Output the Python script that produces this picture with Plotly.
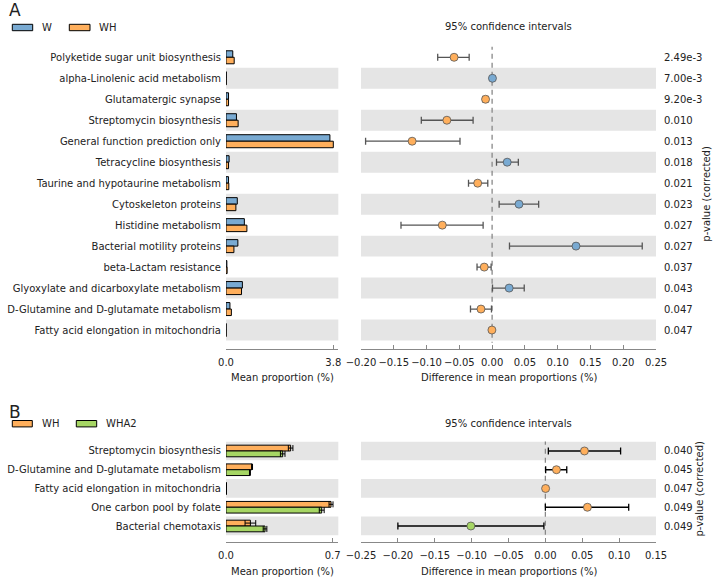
import plotly.graph_objects as go

W_PX, H_PX = 722, 582
FONT = "DejaVu Sans"

# ---------------- Panel A data ----------------
a_groups = ["W", "WH"]
a_features = [
    "Polyketide sugar unit biosynthesis",
    "alpha-Linolenic acid metabolism",
    "Glutamatergic synapse",
    "Streptomycin biosynthesis",
    "General function prediction only",
    "Tetracycline biosynthesis",
    "Taurine and hypotaurine metabolism",
    "Cytoskeleton proteins",
    "Histidine metabolism",
    "Bacterial motility proteins",
    "beta-Lactam resistance",
    "Glyoxylate and dicarboxylate metabolism",
    "D-Glutamine and D-glutamate metabolism",
    "Fatty acid elongation in mitochondria",
]
a_mean_W = [0.24, 0.01, 0.09, 0.37, 3.68, 0.11, 0.09, 0.40, 0.65, 0.42, 0.03, 0.58, 0.14, 0.005]
a_mean_WH = [0.29, 0.01, 0.09, 0.43, 3.80, 0.09, 0.10, 0.35, 0.74, 0.28, 0.04, 0.55, 0.19, 0.006]
a_diff = [-0.058, 0.0005, -0.010, -0.069, -0.122, 0.023, -0.022, 0.041, -0.076, 0.128, -0.012, 0.026, -0.017, -0.0003]
a_ci_low = [-0.083, -0.0005, -0.0137, -0.108, -0.193, 0.0067, -0.036, 0.0107, -0.139, 0.0265, -0.023, 0.0006, -0.033, -0.0008]
a_ci_high = [-0.035, 0.0015, -0.0066, -0.029, -0.049, 0.040, -0.0066, 0.071, -0.0137, 0.229, -0.0015, 0.049, -0.001, 0.0002]
a_pvals = ["2.49e-3", "7.00e-3", "9.20e-3", "0.010", "0.013", "0.018", "0.021",
           "0.023", "0.027", "0.027", "0.037", "0.043", "0.047", "0.047"]
a_bar_ticks = [0.0, 3.8]
a_diff_ticks = [-0.20, -0.15, -0.10, -0.05, 0.00, 0.05, 0.10, 0.15, 0.20, 0.25]

# ---------------- Panel B data ----------------
b_groups = ["WH", "WHA2"]
b_features = [
    "Streptomycin biosynthesis",
    "D-Glutamine and D-glutamate metabolism",
    "Fatty acid elongation in mitochondria",
    "One carbon pool by folate",
    "Bacterial chemotaxis",
]
b_mean_WH = [0.424, 0.171, 0.002, 0.689, 0.160]
b_err_WH = [0.015, 0.003, 0.0005, 0.013, 0.035]
b_mean_WHA2 = [0.372, 0.157, 0.002, 0.628, 0.256]
b_err_WHA2 = [0.015, 0.003, 0.0005, 0.016, 0.012]
b_diff = [0.053, 0.015, 0.0003, 0.057, -0.101]
b_ci_low = [0.004, 0.0004, -0.0002, 0.000, -0.200]
b_ci_high = [0.102, 0.029, 0.0008, 0.113, -0.002]
b_pvals = ["0.040", "0.045", "0.047", "0.049", "0.049"]
b_bar_ticks = [0.0, 0.7]
b_diff_ticks = [-0.25, -0.20, -0.15, -0.10, -0.05, 0.00, 0.05, 0.10, 0.15]

COLORS = {"W": "#79AAD2", "WH": "#FFAF5C", "WHA2": "#A6D664"}
BAND = "#E5E5E5"
TXT = "#222222"


def fx(px):
    return px / W_PX


def fy(py):
    return 1 - py / H_PX


def fmt(v, nd):
    s = f"{abs(v):.{nd}f}"
    return ("\u2212" + s) if v < -1e-12 else s


fig = go.Figure()

# ---------- bars A ----------
a_idx = list(range(len(a_features)))
for g, vals in zip(a_groups, [a_mean_W, a_mean_WH]):
    fig.add_trace(go.Bar(x=vals, y=a_idx, orientation="h", name=g,
                         marker=dict(color=COLORS[g], line=dict(color="black", width=1)),
                         xaxis="x", yaxis="y", showlegend=False))

# ---------- diff A ----------
a_cols = [COLORS[a_groups[0]] if d > 0 else COLORS[a_groups[1]] for d in a_diff]
fig.add_trace(go.Scatter(
    x=a_diff, y=a_idx, mode="markers", xaxis="x2", yaxis="y2", showlegend=False,
    marker=dict(size=8, color=a_cols, line=dict(color="#555555", width=0.8)),
    error_x=dict(type="data", symmetric=False,
                 array=[h - d for h, d in zip(a_ci_high, a_diff)],
                 arrayminus=[d - l for l, d in zip(a_ci_low, a_diff)],
                 color="#555555", thickness=1.3, width=3.5)))

# ---------- bars B ----------
b_idx = list(range(len(b_features)))
for g, vals, errs in zip(b_groups, [b_mean_WH, b_mean_WHA2], [b_err_WH, b_err_WHA2]):
    fig.add_trace(go.Bar(x=vals, y=b_idx, orientation="h", name=g,
                         marker=dict(color=COLORS[g], line=dict(color="black", width=1)),
                         error_x=dict(type="data", array=errs, color="black", thickness=1, width=3),
                         xaxis="x3", yaxis="y3", showlegend=False))

# ---------- diff B ----------
b_cols = [COLORS[b_groups[0]] if d > 0 else COLORS[b_groups[1]] for d in b_diff]
fig.add_trace(go.Scatter(
    x=b_diff, y=b_idx, mode="markers", xaxis="x4", yaxis="y4", showlegend=False,
    marker=dict(size=8, color=b_cols, line=dict(color="#555555", width=0.8)),
    error_x=dict(type="data", symmetric=False,
                 array=[h - d for h, d in zip(b_ci_high, b_diff)],
                 arrayminus=[d - l for l, d in zip(b_ci_low, b_diff)],
                 color="black", thickness=1.3, width=3.5)))

# ---------- axes ----------
A_TOP, A_BOT = 46.8, 349.0
B_TOP, B_BOT = 441.6, 542.3
BAR_L, BAR_R = 226, 338.3
DIF_L, DIF_R = 361, 656

tickfont = dict(family=FONT, size=10, color=TXT)


def xax(domain, rng, ticks, nd, anchor):
    return dict(domain=[fx(domain[0]), fx(domain[1])], range=rng, anchor=anchor,
                showline=True, linecolor="#888888", linewidth=1, showgrid=False, zeroline=False,
                ticks="inside", ticklen=4, tickcolor="#888888", tickwidth=1,
                tickvals=ticks, ticktext=[fmt(t, nd) for t in ticks], tickangle=0,
                ticklabelstandoff=4,
                automargin=False, tickfont=tickfont, fixedrange=True)


def yax(domain, rng, anchor, labels=None):
    d = dict(domain=[fy(domain[1]), fy(domain[0])], range=rng, anchor=anchor,
             showline=False, showgrid=False, zeroline=False, ticks="", fixedrange=True,
             automargin=False)
    if labels is None:
        d["showticklabels"] = False
    else:
        d.update(tickvals=list(range(len(labels))), ticktext=labels, tickfont=tickfont,
                 ticklabelstandoff=4)
    return d


a_yrange = [(A_BOT - 57.3) / 20.98, -0.5]
b_yrange = [(B_BOT - 451.0) / 18.75, -0.5]

fig.update_layout(
    xaxis=xax((BAR_L, BAR_R), [0, 3.8 * (BAR_R - BAR_L) / (333.3 - 226)], a_bar_ticks, 1, "y"),
    yaxis=yax((A_TOP, A_BOT), a_yrange, "x", a_features),
    xaxis2=xax((DIF_L, DIF_R), [-0.20, 0.25], a_diff_ticks, 2, "y2"),
    yaxis2=yax((A_TOP, A_BOT), a_yrange, "x2"),
    xaxis3=xax((BAR_L, BAR_R), [0, 0.7 * (BAR_R - BAR_L) / (332.7 - 226)], b_bar_ticks, 1, "y3"),
    yaxis3=yax((B_TOP, B_BOT), b_yrange, "x3", b_features),
    xaxis4=xax((DIF_L, DIF_R), [-0.25, 0.15], b_diff_ticks, 2, "y4"),
    yaxis4=yax((B_TOP, B_BOT), b_yrange, "x4"),
    barmode="group", bargap=0.38, bargroupgap=0,
    width=W_PX, height=H_PX, margin=dict(l=0, r=0, t=0, b=0, autoexpand=False),
    paper_bgcolor="white", plot_bgcolor="rgba(0,0,0,0)",
    font=dict(family=FONT, size=10, color=TXT),
)

shapes = []
# background bands
for n, pairs in [(len(a_features), [("x", "y"), ("x2", "y2")]),
                 (len(b_features), [("x3", "y3"), ("x4", "y4")])]:
    for i in range(n):
        if (n - 1 - i) % 2 == 0:
            for xr, yr in pairs:
                shapes.append(dict(type="rect", xref=xr + " domain", yref=yr, x0=0, x1=1,
                                   y0=i - 0.5, y1=i + 0.5, fillcolor=BAND, line=dict(width=0),
                                   layer="below"))
# zero lines
shapes.append(dict(type="line", xref="x2", yref="y2", x0=0, x1=0, y0=-0.6, y1=len(a_features) - 0.4,
                   line=dict(color="#888888", width=1.3, dash="5px,4px"), layer="below"))
shapes.append(dict(type="line", xref="x4", yref="y4", x0=0, x1=0, y0=-0.6, y1=len(b_features) - 0.4,
                   line=dict(color="#888888", width=1.3, dash="5px,4px"), layer="below"))

annotations = []


def legend(y, items):
    for (x0, x1, tx), g in items:
        shapes.append(dict(type="rect", xref="paper", yref="paper", x0=fx(x0), x1=fx(x1),
                           y0=fy(y + 3.2), y1=fy(y - 3.2), fillcolor=COLORS[g],
                           line=dict(color="black", width=1)))
        annotations.append(dict(xref="paper", yref="paper", x=fx(tx), y=fy(y), text=g,
                                showarrow=False, xanchor="left", yanchor="middle",
                                font=dict(family=FONT, size=10, color=TXT)))


legend(27.5, [((12.3, 32.7, 40), "W"), ((69.3, 90, 97), "WH")])
legend(423.7, [((12.3, 32.3, 40), "WH"), ((76.3, 96.7, 103.5), "WHA2")])


def text(x, y, s, size=10, xanchor="center", angle=0):
    annotations.append(dict(xref="paper", yref="paper", x=fx(x), y=fy(y), text=s, showarrow=False,
                            xanchor=xanchor, yanchor="middle", textangle=angle,
                            font=dict(family=FONT, size=size, color=TXT)))


text(7, 10, "A", size=17, xanchor="left")
text(7, 412, "B", size=17, xanchor="left")
text((DIF_L + DIF_R) / 2, 26.7, "95% confidence intervals")
text((DIF_L + DIF_R) / 2, 423.3, "95% confidence intervals")
text((BAR_L + BAR_R) / 2, 377, "Mean proportion (%)")
text((DIF_L + DIF_R) / 2, 377, "Difference in mean proportions (%)")
text((BAR_L + BAR_R) / 2, 571, "Mean proportion (%)")
text((DIF_L + DIF_R) / 2, 571, "Difference in mean proportions (%)")
text(707, (A_TOP + 340.5) / 2, "p-value (corrected)", angle=-90)
text(699, (B_TOP + 535.4) / 2, "p-value (corrected)", angle=-90)

for i, p in enumerate(a_pvals):
    annotations.append(dict(xref="paper", yref="y2", x=fx(662), y=i, text=p, showarrow=False,
                            xanchor="left", yanchor="middle", font=dict(family=FONT, size=10, color=TXT)))
for i, p in enumerate(b_pvals):
    annotations.append(dict(xref="paper", yref="y4", x=fx(662), y=i, text=p, showarrow=False,
                            xanchor="left", yanchor="middle", font=dict(family=FONT, size=10, color=TXT)))

fig.update_layout(shapes=shapes, annotations=annotations)
fig.write_html("out.html", config={"displayModeBar": False},
               post_script="document.body.style.margin='0';document.body.style.overflow='hidden';")
